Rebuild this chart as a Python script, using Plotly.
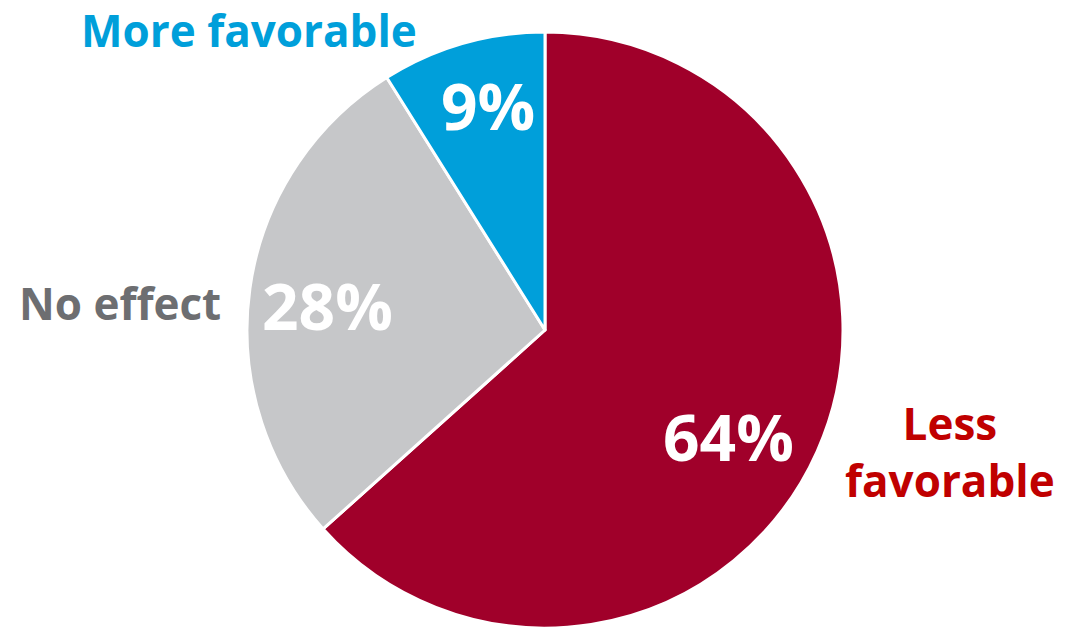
import math
import plotly.graph_objects as go

categories = ["Less favorable", "No effect", "More favorable"]
values = [64, 28, 9]
pct_labels = ["64%", "28%", "9%"]
slice_colors = ["#A0002A", "#C6C7C9", "#009FDA"]
label_colors = ["#C00000", "#6D6E71", "#009FDA"]

W, H = 1066, 630
FONT = "'Open Sans', sans-serif"
# pie domain in pixels
PX0, PX1, PY0, PY1 = 247, 843, 32, 628

fig = go.Figure(go.Pie(
    labels=categories,
    values=values,
    text=pct_labels,
    textinfo="none",
    marker=dict(colors=slice_colors, line=dict(color="white", width=3)),
    sort=False,
    direction="clockwise",
    rotation=0,
    showlegend=False,
    hoverinfo="label+text",
    domain=dict(x=[PX0 / W, PX1 / W], y=[1 - PY1 / H, 1 - PY0 / H]),
))

# percentage labels inside slices at mid-angle (derived from values)
cx = (PX0 + PX1) / 2
cy = (PY0 + PY1) / 2
R = min(PX1 - PX0, PY1 - PY0) / 2
total = sum(values)
nudge = {"64%": (-15, 18), "28%": (-2, 6), "9%": (3, -15)}
anns = []
cum = 0
for v, t in zip(values, pct_labels):
    mid = (cum + v / 2) / total * 2 * math.pi
    cum += v
    px = cx + 0.73 * R * math.sin(mid) + nudge[t][0]
    py = cy - 0.73 * R * math.cos(mid) + nudge[t][1]
    anns.append(dict(
        x=px / W, y=1 - py / H, xref="paper", yref="paper",
        text=t, showarrow=False, xanchor="center", yanchor="middle",
        borderpad=0,
        font=dict(family=FONT, size=64, color="white", weight="bold"),
    ))

ann_pos = {
    "More favorable": (249, 30),
    "No effect": (120, 303),
    "Less favorable": (950, 451),
}
for cat, col in zip(categories, label_colors):
    x, y = ann_pos[cat]
    txt = "Less<br>favorable" if cat == "Less favorable" else cat
    anns.append(dict(
        x=x / W, y=1 - y / H, xref="paper", yref="paper",
        text=txt, showarrow=False, xanchor="center", yanchor="middle",
        align="center", borderpad=0,
        font=dict(family=FONT, size=44, color=col, weight="bold"),
    ))

fig.update_layout(
    width=W, height=H,
    margin=dict(l=0, r=0, t=0, b=0),
    paper_bgcolor="white",
    plot_bgcolor="white",
    annotations=anns,
)

fig.write_html("out.html", config={"displayModeBar": False},
               post_script="document.body.style.margin='0';")
